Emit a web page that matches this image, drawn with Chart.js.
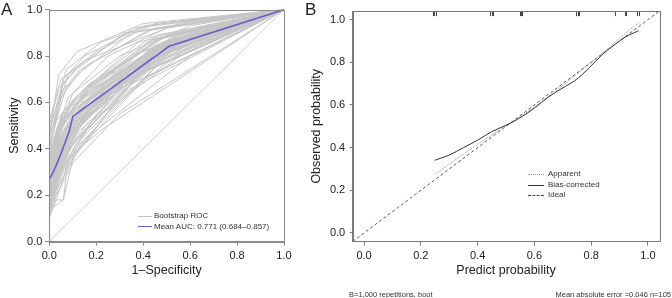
<!DOCTYPE html>
<html><head><meta charset="utf-8">
<script src="https://cdn.jsdelivr.net/npm/chart.js@4.4.1/dist/chart.umd.min.js"></script>
<style>
html,body{margin:0;padding:0;background:#fff;}
body{width:672px;height:298px;position:relative;overflow:hidden;font-family:"Liberation Sans",Arial,Helvetica,sans-serif;color:#222;}
canvas{position:absolute;top:0;}
.t{position:absolute;white-space:nowrap;}
.lg{position:absolute;height:0;}
</style>
</head><body>
<canvas id="cA" width="300" height="298" style="left:0;width:300px;height:298px"></canvas>
<canvas id="cB" width="372" height="298" style="left:300px;width:372px;height:298px"></canvas>

<div class="t" style="left:1px;top:1px;font-size:17px;line-height:18px;">A</div>
<div class="t" style="left:305px;top:1px;font-size:17px;line-height:18px;">B</div>

<div class="lg" style="left:138px;top:216px;width:14px;border-top:1px solid #c4c4c4;"></div>
<div class="t" style="left:154px;top:211px;font-size:8px;line-height:10px;color:#333;">Bootstrap ROC</div>
<div class="lg" style="left:138px;top:226px;width:14px;border-top:1.5px solid #6a5acd;"></div>
<div class="t" style="left:154px;top:221.5px;font-size:8px;line-height:10px;color:#333;">Mean AUC: 0.771 (0.684–0.857)</div>

<div class="lg" style="left:528px;top:174px;width:16px;border-top:1px dotted #999;"></div>
<div class="t" style="left:548px;top:169px;font-size:8px;line-height:10px;color:#333;">Apparent</div>
<div class="lg" style="left:528px;top:184.5px;width:16px;border-top:1px solid #333;"></div>
<div class="t" style="left:548px;top:179.5px;font-size:8px;line-height:10px;color:#333;">Bias-corrected</div>
<div class="lg" style="left:528px;top:195px;width:16px;border-top:1px dashed #444;"></div>
<div class="t" style="left:548px;top:190px;font-size:8px;line-height:10px;color:#333;">Ideal</div>

<div class="t" style="left:349px;top:289.5px;font-size:7.5px;line-height:10px;color:#333;">B=1,000 repetitions, boot</div>
<div class="t" style="right:1px;top:289.5px;font-size:7.5px;line-height:10px;color:#333;">Mean absolute error =0.046 n=105</div>

<script>
// ---------- Panel A data ----------
const rocTicks = [0, 0.2, 0.4, 0.6, 0.8, 1.0];
const meanFpr = [0, 0, 0.012, 0.03, 0.05, 0.085, 0.1, 0.51, 1];
const meanTpr = [0, 0.27, 0.29, 0.33, 0.38, 0.476, 0.54, 0.842, 1];
const chanceFpr = [0, 1];
const chanceTpr = [0, 1];
// each bootstrap ROC: (fpr,tpr) pairs between the fixed ends (0,0) and (1,1)
const bootRoc = [
 [0,0.20, 0.04,0.39, 0.12,0.56, 0.45,0.84],
 [0,0.28, 0.05,0.44, 0.15,0.62, 0.50,0.86],
 [0,0.15, 0.03,0.26, 0.10,0.42, 0.40,0.78],
 [0,0.35, 0.06,0.52, 0.18,0.68, 0.48,0.88],
 [0,0.25, 0.04,0.36, 0.11,0.49, 0.52,0.82],
 [0,0.18, 0.05,0.31, 0.14,0.46, 0.38,0.72],
 [0,0.30, 0.03,0.46, 0.10,0.60, 0.42,0.86],
 [0,0.22, 0.06,0.38, 0.16,0.54, 0.55,0.85],
 [0,0.40, 0.05,0.62, 0.12,0.72, 0.35,0.90],
 [0,0.12, 0.04,0.24, 0.12,0.39, 0.45,0.75],
 [0,0.26, 0.02,0.34, 0.09,0.50, 0.47,0.83],
 [0,0.33, 0.07,0.49, 0.20,0.64, 0.53,0.87],
 [0,0.19, 0.03,0.29, 0.13,0.52, 0.50,0.81],
 [0,0.47, 0.06,0.70, 0.15,0.80, 0.40,0.93],
 [0,0.24, 0.05,0.41, 0.10,0.53, 0.44,0.84],
 [0,0.16, 0.06,0.36, 0.17,0.57, 0.56,0.86],
 [0,0.29, 0.04,0.43, 0.14,0.59, 0.49,0.85],
 [0,0.21, 0.02,0.28, 0.08,0.44, 0.36,0.76],
 [0,0.37, 0.05,0.51, 0.11,0.62, 0.46,0.89],
 [0,0.14, 0.05,0.30, 0.15,0.44, 0.60,0.80],
 [0,0.27, 0.06,0.47, 0.18,0.63, 0.50,0.84],
 [0,0.23, 0.03,0.36, 0.12,0.55, 0.43,0.82],
 [0,0.32, 0.04,0.48, 0.13,0.61, 0.52,0.88],
 [0,0.17, 0.04,0.32, 0.10,0.47, 0.41,0.78],
 [0,0.42, 0.07,0.66, 0.16,0.76, 0.45,0.92],
 [0,0.20, 0.05,0.34, 0.16,0.51, 0.58,0.83],
 [0,0.26, 0.03,0.40, 0.11,0.57, 0.47,0.85],
 [0,0.11, 0.03,0.20, 0.10,0.34, 0.30,0.55],
 [0,0.31, 0.05,0.45, 0.13,0.58, 0.39,0.82],
 [0,0.22, 0.06,0.42, 0.19,0.60, 0.54,0.86],
 [0,0.36, 0.04,0.50, 0.09,0.58, 0.44,0.87],
 [0,0.18, 0.02,0.24, 0.08,0.39, 0.33,0.70],
 [0,0.25, 0.05,0.40, 0.14,0.56, 0.51,0.84],
 [0,0.29, 0.07,0.54, 0.21,0.69, 0.55,0.89],
 [0,0.15, 0.04,0.28, 0.12,0.43, 0.48,0.78],
 [0,0.34, 0.03,0.45, 0.10,0.56, 0.37,0.81],
 [0,0.21, 0.05,0.38, 0.15,0.55, 0.46,0.83],
 [0,0.44, 0.05,0.64, 0.13,0.74, 0.42,0.91],
 [0,0.19, 0.06,0.35, 0.13,0.48, 0.57,0.81],
 [0,0.27, 0.04,0.42, 0.12,0.54, 0.49,0.84],
 [0,0.13, 0.03,0.23, 0.11,0.37, 0.31,0.64],
 [0,0.38, 0.06,0.56, 0.17,0.68, 0.50,0.89],
 [0,0.23, 0.04,0.37, 0.09,0.48, 0.40,0.80],
 [0,0.30, 0.05,0.49, 0.16,0.64, 0.53,0.87],
 [0,0.17, 0.05,0.33, 0.13,0.50, 0.45,0.79],
 [0,0.50, 0.04,0.66, 0.10,0.73, 0.32,0.90],
 [0,0.24, 0.06,0.41, 0.18,0.58, 0.59,0.85],
 [0,0.20, 0.03,0.31, 0.11,0.51, 0.42,0.81],
 [0,0.33, 0.04,0.47, 0.12,0.60, 0.48,0.86],
 [0,0.16, 0.04,0.27, 0.14,0.42, 0.35,0.68],
 [0,0.28, 0.06,0.45, 0.14,0.57, 0.54,0.85],
 [0,0.39, 0.05,0.54, 0.15,0.66, 0.43,0.88],
 [0,0.22, 0.02,0.30, 0.10,0.46, 0.39,0.77],
 [0,0.26, 0.05,0.43, 0.17,0.61, 0.52,0.86],
 [0,0.45, 0.08,0.72, 0.20,0.82, 0.45,0.94],
 [0,0.18, 0.04,0.34, 0.15,0.53, 0.50,0.82],
 [0,0.31, 0.03,0.43, 0.12,0.58, 0.46,0.85],
 [0,0.14, 0.06,0.31, 0.16,0.48, 0.41,0.74],
 [0,0.35, 0.05,0.51, 0.14,0.63, 0.51,0.87],
 [0,0.24, 0.04,0.39, 0.13,0.54, 0.44,0.82],
 [0,0.40, 0.03,0.52, 0.09,0.60, 0.38,0.86],
 [0,0.20, 0.07,0.44, 0.19,0.59, 0.56,0.85],
 [0,0.27, 0.05,0.39, 0.12,0.52, 0.50,0.83],
 [0,0.32, 0.06,0.52, 0.17,0.66, 0.47,0.88],
 [0,0.15, 0.03,0.26, 0.09,0.41, 0.42,0.76],
 [0,0.48, 0.06,0.68, 0.14,0.77, 0.36,0.92],
 [0,0.23, 0.05,0.41, 0.15,0.57, 0.53,0.85],
 [0,0.19, 0.04,0.36, 0.10,0.49, 0.45,0.80],
 [0,0.36, 0.06,0.55, 0.16,0.66, 0.49,0.88],
 [0,0.25, 0.04,0.38, 0.11,0.51, 0.47,0.83],
 [0,0.45, 0.04,0.72, 0.12,0.82, 0.40,0.94],
 [0,0.40, 0.07,0.74, 0.22,0.86, 0.42,0.93],
 [0,0.52, 0.05,0.70, 0.15,0.78, 0.55,0.94],
 [0,0.10, 0.03,0.18, 0.09,0.37, 0.22,0.48],
 [0,0.15, 0.02,0.15, 0.06,0.18, 0.11,0.40, 0.40,0.70],
 [0,0.18, 0.06,0.18, 0.08,0.36, 0.20,0.55, 0.50,0.80],
 [0,0.30, 0.02,0.44, 0.08,0.62, 0.25,0.80, 0.50,0.92],
 [0,0.21, 0.04,0.48, 0.10,0.64, 0.30,0.80, 0.60,0.93],
 [0,0.22, 0.05,0.40, 0.10,0.50, 0.30,0.70, 0.55,0.85],
 [0,0.30, 0.04,0.44, 0.12,0.55, 0.35,0.74, 0.60,0.88],
 [0,0.18, 0.03,0.30, 0.08,0.45, 0.25,0.65, 0.50,0.82],
 [0,0.26, 0.06,0.46, 0.14,0.58, 0.33,0.75, 0.58,0.89],
 [0,0.20, 0.04,0.35, 0.12,0.52, 0.28,0.66, 0.52,0.83]
];

// ---------- Panel B data ----------
const calTicks = [0, 0.2, 0.4, 0.6, 0.8, 1.0];
const apparentX = [0.25, 0.35, 0.45, 0.55, 0.65, 0.75, 0.85, 0.92, 0.967];
const apparentY = [0.275, 0.37, 0.46, 0.545, 0.64, 0.745, 0.855, 0.935, 0.985];
const biasX = [0.249, 0.30, 0.35, 0.40, 0.45, 0.50, 0.54, 0.60, 0.65, 0.70, 0.744, 0.79, 0.838, 0.88, 0.92, 0.967];
const biasY = [0.341, 0.365, 0.40, 0.435, 0.475, 0.505, 0.532, 0.585, 0.638, 0.68, 0.716, 0.77, 0.835, 0.88, 0.918, 0.948];
const idealX = [-0.04, 1.04];
const idealY = [-0.04, 1.04];
const rugX = [0.242, 0.247, 0.252, 0.445, 0.449, 0.455, 0.548, 0.552, 0.556, 0.745, 0.748, 0.752, 0.756, 0.884, 0.918, 0.924, 0.962, 0.968];

// ---------- helpers ----------
const FONT = '"Liberation Sans", Arial, Helvetica, sans-serif';
const zip = (xs, ys) => xs.map((x, i) => ({x: x, y: ys[i]}));
const bootPts = arr => {
  const pts = [{x: 0, y: 0}];
  for (let i = 0; i < arr.length; i += 2) pts.push({x: arr[i], y: arr[i + 1]});
  pts.push({x: 1, y: 1});
  return pts;
};
const lineDs = (data, color, width, extra) => Object.assign({
  data: data, showLine: true, borderColor: color, borderWidth: width,
  pointRadius: 0, pointHoverRadius: 0, fill: false, tension: 0
}, extra || {});

const boxPlugin = {
  id: 'box',
  afterDraw(chart) {
    const a = chart.chartArea, c = chart.ctx;
    c.save();
    c.strokeStyle = chart.options.plugins.box.color;
    c.lineWidth = 1;
    c.strokeRect(Math.round(a.left) + 0.5, Math.round(a.top) + 0.5,
                 Math.round(a.right - a.left), Math.round(a.bottom - a.top));
    c.restore();
  }
};
const rugPlugin = {
  id: 'rug',
  afterDatasetsDraw(chart) {
    const vals = chart.options.plugins.rug.values;
    if (!vals) return;
    const a = chart.chartArea, c = chart.ctx, xs = chart.scales.x;
    c.save();
    c.strokeStyle = '#444';
    c.lineWidth = 1;
    vals.forEach(v => {
      const px = Math.round(xs.getPixelForValue(v)) + 0.5;
      c.beginPath(); c.moveTo(px, a.top); c.lineTo(px, a.top + 5); c.stroke();
    });
    c.restore();
  }
};

function axis(ticksArr, min, max, titleText, isX, fitSize, titlePad, tickPad, tickLen, axisColor) {
  return {
    type: 'linear', min: min, max: max,
    afterBuildTicks: s => { s.ticks = ticksArr.map(v => ({value: v})); },
    afterFit: s => { if (isX) s.height = fitSize; else s.width = fitSize; },
    ticks: {callback: v => Number(v).toFixed(1), color: '#222', font: {size: 11, family: FONT},
            padding: tickPad, maxRotation: 0, autoSkip: false},
    grid: {drawOnChartArea: false, drawTicks: true, tickLength: tickLen, color: axisColor, lineWidth: 1},
    border: {display: true, color: axisColor, width: 1},
    title: {display: true, text: titleText, color: '#222', font: {size: 12.5, family: FONT},
            padding: titlePad}
  };
}

// ---------- Panel A ----------
const dsA = [];
dsA.push(lineDs(zip(meanFpr, meanTpr), '#6a5acd', 1.5));
dsA.push(lineDs(zip(chanceFpr, chanceTpr), '#cfcfcf', 1));
bootRoc.forEach(r => dsA.push(lineDs(bootPts(r), '#c6c6c6', 1)));

new Chart(document.getElementById('cA'), {
  type: 'scatter',
  data: {datasets: dsA},
  options: {
    responsive: false, animation: false, events: [],
    layout: {padding: {left: 0, top: 7, right: 16, bottom: 0}},
    plugins: {legend: {display: false}, tooltip: {enabled: false}, box: {color: '#8a8a8a'}},
    scales: {
      x: axis(rocTicks, 0, 1, '1–Specificity', true, 56.3, {top: 0, bottom: 19.5}, 3.5, 4, '#8a8a8a'),
      y: axis(rocTicks, 0, 1, 'Sensitivity', false, 49.3, {top: 7, bottom: 0}, 3, 4, '#8a8a8a')
    }
  },
  plugins: [boxPlugin]
});

// ---------- Panel B ----------
const dsB = [
  lineDs(zip(biasX, biasY), '#333333', 1, {cubicInterpolationMode: 'monotone'}),
  lineDs(zip(apparentX, apparentY), '#8c8c8c', 1, {borderDash: [1, 1.2], cubicInterpolationMode: 'monotone'}),
  lineDs(zip(idealX, idealY), '#444444', 0.9, {borderDash: [3, 2.5]})
];

new Chart(document.getElementById('cB'), {
  type: 'scatter',
  data: {datasets: dsB},
  options: {
    responsive: false, animation: false, events: [],
    layout: {padding: {left: 0, top: 5, right: 12.7, bottom: 0}},
    plugins: {legend: {display: false}, tooltip: {enabled: false}, box: {color: '#7a7a7a'},
              rug: {values: rugX}},
    scales: {
      x: axis(calTicks, -0.04, 1.04, 'Predict probability', true, 56.5, {top: 0, bottom: 19.5}, 3.5, 4, '#7a7a7a'),
      y: axis(calTicks, -0.04, 1.04, 'Observed probability', false, 52.7, {top: 9.5, bottom: 0}, 4.5, 3, '#7a7a7a')
    }
  },
  plugins: [boxPlugin, rugPlugin]
});
</script>
</body></html>
